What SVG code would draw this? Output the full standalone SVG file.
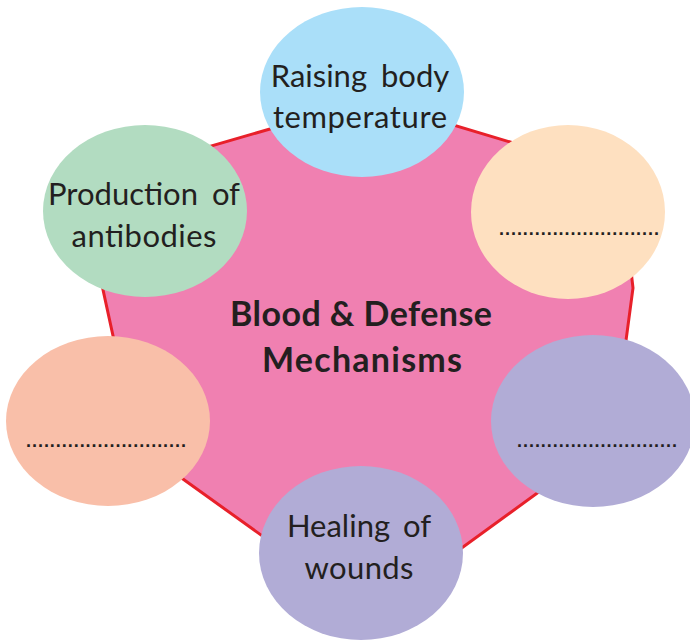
<svg xmlns="http://www.w3.org/2000/svg" width="690" height="640" viewBox="0 0 690 640">
<style>
.lbl{font-family:Lato,"Open Sans","Liberation Sans",sans-serif;font-size:31px;fill:#231f20;text-anchor:middle}
.ttl{font-family:Lato,"Open Sans","Liberation Sans",sans-serif;font-size:34px;font-weight:bold;fill:#231f20;text-anchor:middle}
.dots{font-family:"Liberation Sans",sans-serif;font-size:18px;font-weight:bold;fill:#231f20}
</style>
<rect width="690" height="640" fill="#ffffff"/>
<g id="center">
<polygon points="370,100 620,175 633,288 613,438 371,614 137,446 80,184" fill="#F080B1" stroke="#E8202A" stroke-width="3" stroke-linejoin="miter"/>
<text class="ttl" x="361" y="326" textLength="262" lengthAdjust="spacing">Blood &amp; Defense</text>
<text class="ttl" x="362" y="372" textLength="200" lengthAdjust="spacing">Mechanisms</text>
</g>
<g id="connectors"></g>
<g id="node-temperature">
<ellipse cx="362" cy="92" rx="102" ry="85" fill="#AADFF9"/>
<text class="lbl" x="360" y="87" word-spacing="6">Raising body</text>
<text class="lbl" x="360" y="128" textLength="174" lengthAdjust="spacing">temperature</text>
</g>
<g id="node-antibodies">
<ellipse cx="145" cy="211" rx="102" ry="86" fill="#B2DCC1"/>
<text class="lbl" x="144" y="205" word-spacing="6">Production of</text>
<text class="lbl" x="144" y="247" textLength="145" lengthAdjust="spacing">antibodies</text>
</g>
<g id="node-blank-1">
<ellipse cx="568" cy="212" rx="97" ry="87" fill="#FEE0C0"/>
<text class="dots" x="499" y="235" textLength="160" lengthAdjust="spacing">...........................</text>
</g>
<g id="node-blank-2">
<ellipse cx="108" cy="421" rx="102" ry="85" fill="#F9BFA9"/>
<text class="dots" x="26" y="447" textLength="160" lengthAdjust="spacing">...........................</text>
</g>
<g id="node-blank-3">
<ellipse cx="593" cy="421" rx="102" ry="86" fill="#B1ACD6"/>
<text class="dots" x="517" y="447" textLength="160" lengthAdjust="spacing">...........................</text>
</g>
<g id="node-wounds">
<ellipse cx="361" cy="553" rx="102" ry="87" fill="#B1ACD6"/>
<text class="lbl" x="359" y="537" word-spacing="5">Healing of</text>
<text class="lbl" x="359" y="579" textLength="109" lengthAdjust="spacing">wounds</text>
</g>
</svg>
